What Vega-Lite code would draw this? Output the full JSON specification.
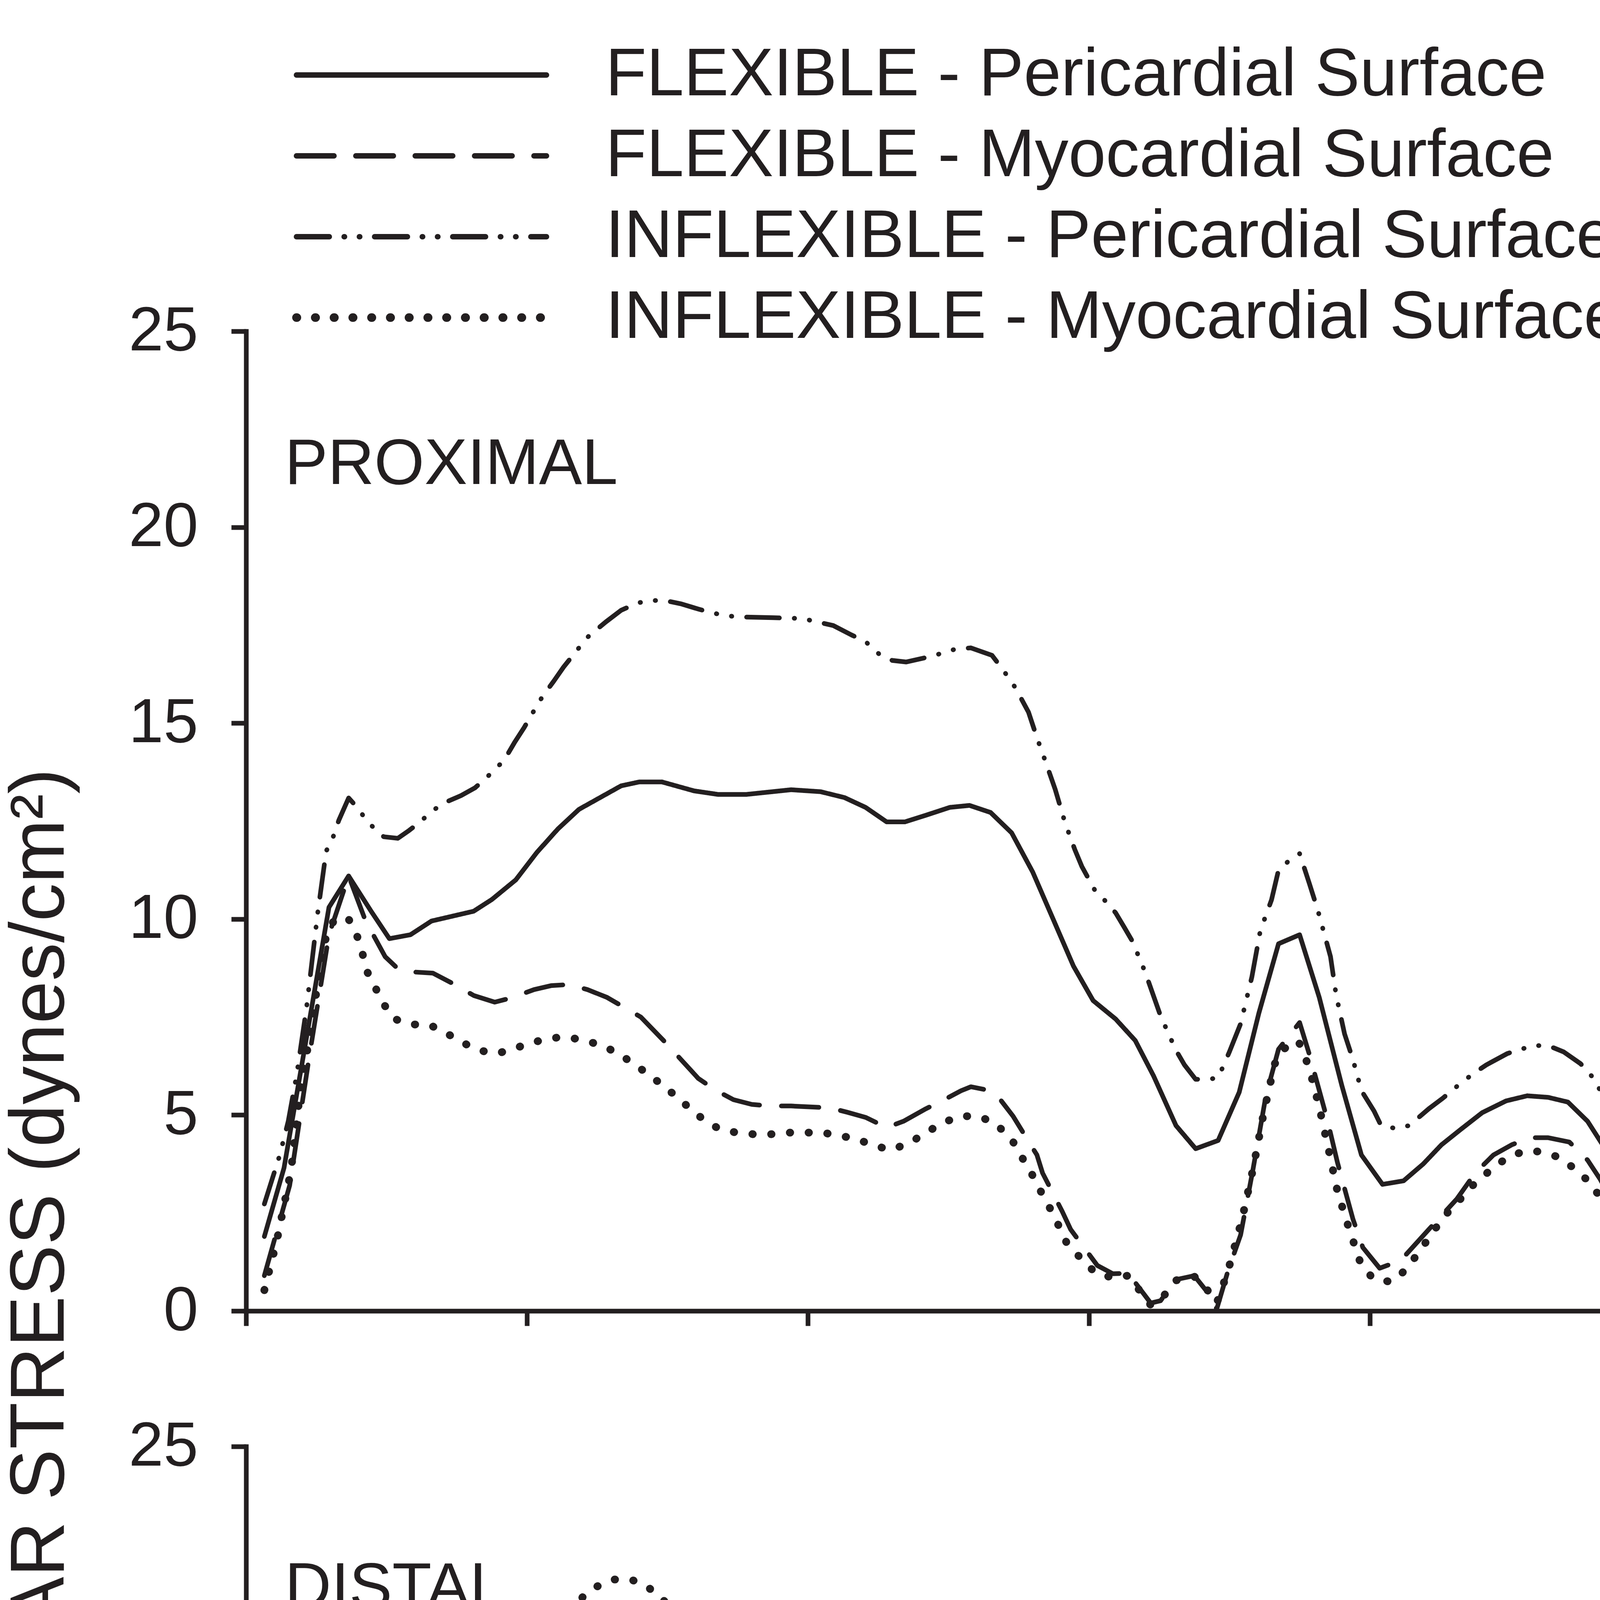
{
  "$schema": "https://vega.github.io/schema/vega-lite/v6.json",
  "background": "white",
  "padding": {"left": 5, "top": 106, "right": 0, "bottom": 0},
  "bounds": "flush",
  "spacing": 347,
  "config": {
    "font": "Liberation Sans",
    "view": {"stroke": null},
    "axis": {
      "domainColor": "#231f20", "domainWidth": 12, "domainCap": "square",
      "tickColor": "#231f20", "tickWidth": 12, "tickSize": 38,
      "labelFont": "Liberation Sans", "labelFontSize": 160, "labelColor": "#231f20", "labelLimit": 1000, "labelFlush": false,
      "titleFont": "Liberation Sans", "titleFontSize": 196, "titleColor": "#231f20", "titleFontWeight": "normal", "titleLimit": 6000,
      "grid": false
    },
    "legend": {
      "labelFont": "Liberation Sans", "labelFontSize": 172, "labelColor": "#231f20", "labelLimit": 4000,
      "symbolType": "M-5,0H5", "symbolSize": 16384, "symbolStrokeColor": "#231f20", "symbolStrokeWidth": 14,
      "labelOffset": 385, "rowPadding": 35, "padding": 0
    }
  },
  "datasets": {
    "prox": [
      {"s":"FP","t":0.013,"w":1.9},{"s":"FP","t":0.027,"w":3.65},{"s":"FP","t":0.059,"w":10.3},{"s":"FP","t":0.073,"w":11.1},{"s":"FP","t":0.089,"w":10.2},{"s":"FP","t":0.102,"w":9.5},{"s":"FP","t":0.117,"w":9.6},{"s":"FP","t":0.132,"w":9.95},{"s":"FP","t":0.162,"w":10.2},{"s":"FP","t":0.175,"w":10.5},{"s":"FP","t":0.192,"w":11.0},{"s":"FP","t":0.207,"w":11.7},{"s":"FP","t":0.222,"w":12.3},{"s":"FP","t":0.237,"w":12.8},{"s":"FP","t":0.252,"w":13.1},{"s":"FP","t":0.267,"w":13.4},{"s":"FP","t":0.28,"w":13.5},{"s":"FP","t":0.296,"w":13.5},{"s":"FP","t":0.319,"w":13.27},{"s":"FP","t":0.336,"w":13.18},{"s":"FP","t":0.356,"w":13.18},{"s":"FP","t":0.388,"w":13.3},{"s":"FP","t":0.409,"w":13.25},{"s":"FP","t":0.426,"w":13.1},{"s":"FP","t":0.441,"w":12.85},{"s":"FP","t":0.456,"w":12.48},{"s":"FP","t":0.469,"w":12.48},{"s":"FP","t":0.484,"w":12.65},{"s":"FP","t":0.501,"w":12.85},{"s":"FP","t":0.515,"w":12.9},{"s":"FP","t":0.53,"w":12.72},{"s":"FP","t":0.545,"w":12.2},{"s":"FP","t":0.56,"w":11.2},{"s":"FP","t":0.575,"w":9.96},{"s":"FP","t":0.589,"w":8.8},{"s":"FP","t":0.603,"w":7.92},{"s":"FP","t":0.619,"w":7.45},{"s":"FP","t":0.633,"w":6.9},{"s":"FP","t":0.646,"w":6.0},{"s":"FP","t":0.662,"w":4.73},{"s":"FP","t":0.676,"w":4.14},{"s":"FP","t":0.692,"w":4.35},{"s":"FP","t":0.707,"w":5.58},{"s":"FP","t":0.721,"w":7.6},{"s":"FP","t":0.735,"w":9.37},{"s":"FP","t":0.75,"w":9.6},{"s":"FP","t":0.764,"w":8.0},{"s":"FP","t":0.78,"w":5.76},{"s":"FP","t":0.794,"w":3.98},{"s":"FP","t":0.809,"w":3.23},{"s":"FP","t":0.824,"w":3.32},{"s":"FP","t":0.838,"w":3.75},{"s":"FP","t":0.851,"w":4.24},{"s":"FP","t":0.865,"w":4.64},{"s":"FP","t":0.88,"w":5.06},{"s":"FP","t":0.897,"w":5.36},{"s":"FP","t":0.912,"w":5.49},{"s":"FP","t":0.927,"w":5.45},{"s":"FP","t":0.941,"w":5.33},{"s":"FP","t":0.955,"w":4.84},{"s":"FP","t":0.97,"w":4.0},{"s":"FP","t":0.986,"w":2.76},{"s":"FP","t":1.0,"w":1.88},

      {"s":"FM","t":0.013,"w":0.9},{"s":"FM","t":0.031,"w":3.2},{"s":"FM","t":0.045,"w":6.5},{"s":"FM","t":0.059,"w":9.6},{"s":"FM","t":0.073,"w":11.1},{"s":"FM","t":0.085,"w":9.96},{"s":"FM","t":0.099,"w":9.04},{"s":"FM","t":0.109,"w":8.7},{"s":"FM","t":0.119,"w":8.65},{"s":"FM","t":0.133,"w":8.62},{"s":"FM","t":0.149,"w":8.32},{"s":"FM","t":0.162,"w":8.05},{"s":"FM","t":0.177,"w":7.88},{"s":"FM","t":0.189,"w":7.99},{"s":"FM","t":0.205,"w":8.2},{"s":"FM","t":0.217,"w":8.3},{"s":"FM","t":0.23,"w":8.33},{"s":"FM","t":0.243,"w":8.2},{"s":"FM","t":0.257,"w":8.0},{"s":"FM","t":0.269,"w":7.75},{"s":"FM","t":0.281,"w":7.5},{"s":"FM","t":0.298,"w":6.87},{"s":"FM","t":0.31,"w":6.4},{"s":"FM","t":0.322,"w":5.93},{"s":"FM","t":0.335,"w":5.62},{"s":"FM","t":0.347,"w":5.39},{"s":"FM","t":0.36,"w":5.27},{"s":"FM","t":0.373,"w":5.23},{"s":"FM","t":0.388,"w":5.23},{"s":"FM","t":0.416,"w":5.18},{"s":"FM","t":0.428,"w":5.07},{"s":"FM","t":0.441,"w":4.94},{"s":"FM","t":0.456,"w":4.68},{"s":"FM","t":0.468,"w":4.84},{"s":"FM","t":0.484,"w":5.16},{"s":"FM","t":0.497,"w":5.39},{"s":"FM","t":0.509,"w":5.62},{"s":"FM","t":0.516,"w":5.72},{"s":"FM","t":0.53,"w":5.62},{"s":"FM","t":0.537,"w":5.39},{"s":"FM","t":0.546,"w":4.97},{"s":"FM","t":0.563,"w":3.98},{"s":"FM","t":0.567,"w":3.52},{"s":"FM","t":0.581,"w":2.54},{"s":"FM","t":0.587,"w":2.08},{"s":"FM","t":0.606,"w":1.16},{"s":"FM","t":0.617,"w":0.95},{"s":"FM","t":0.628,"w":0.96},{"s":"FM","t":0.644,"w":0.2},{"s":"FM","t":0.651,"w":0.26},{"s":"FM","t":0.662,"w":0.8},{"s":"FM","t":0.675,"w":0.9},{"s":"FM","t":0.683,"w":0.54},{"s":"FM","t":0.691,"w":0.05},{"s":"FM","t":0.699,"w":1.02},{"s":"FM","t":0.708,"w":1.94},{"s":"FM","t":0.717,"w":3.65},{"s":"FM","t":0.726,"w":5.49},{"s":"FM","t":0.735,"w":6.68},{"s":"FM","t":0.75,"w":7.36},{"s":"FM","t":0.757,"w":6.54},{"s":"FM","t":0.77,"w":4.84},{"s":"FM","t":0.777,"w":3.78},{"s":"FM","t":0.788,"w":2.34},{"s":"FM","t":0.795,"w":1.62},{"s":"FM","t":0.807,"w":1.09},{"s":"FM","t":0.822,"w":1.29},{"s":"FM","t":0.842,"w":2.08},{"s":"FM","t":0.862,"w":2.86},{"s":"FM","t":0.875,"w":3.52},{"s":"FM","t":0.888,"w":3.98},{"s":"FM","t":0.901,"w":4.24},{"s":"FM","t":0.914,"w":4.42},{"s":"FM","t":0.927,"w":4.42},{"s":"FM","t":0.942,"w":4.31},{"s":"FM","t":0.955,"w":3.85},{"s":"FM","t":0.964,"w":3.36},{"s":"FM","t":0.978,"w":2.4},{"s":"FM","t":0.988,"w":1.62},{"s":"FM","t":1.0,"w":0.6},

      {"s":"IP","t":0.013,"w":2.73},{"s":"IP","t":0.024,"w":3.98},{"s":"IP","t":0.03,"w":4.84},{"s":"IP","t":0.036,"w":6.02},{"s":"IP","t":0.043,"w":7.73},{"s":"IP","t":0.051,"w":10.16},{"s":"IP","t":0.057,"w":11.73},{"s":"IP","t":0.062,"w":12.1},{"s":"IP","t":0.066,"w":12.52},{"s":"IP","t":0.073,"w":13.09},{"s":"IP","t":0.079,"w":12.85},{"s":"IP","t":0.087,"w":12.46},{"s":"IP","t":0.098,"w":12.1},{"s":"IP","t":0.108,"w":12.06},{"s":"IP","t":0.116,"w":12.26},{"s":"IP","t":0.124,"w":12.48},{"s":"IP","t":0.132,"w":12.75},{"s":"IP","t":0.142,"w":12.98},{"s":"IP","t":0.153,"w":13.15},{"s":"IP","t":0.163,"w":13.35},{"s":"IP","t":0.176,"w":13.77},{"s":"IP","t":0.184,"w":14.07},{"s":"IP","t":0.191,"w":14.5},{"s":"IP","t":0.198,"w":14.89},{"s":"IP","t":0.204,"w":15.26},{"s":"IP","t":0.211,"w":15.68},{"s":"IP","t":0.219,"w":16.07},{"s":"IP","t":0.226,"w":16.43},{"s":"IP","t":0.234,"w":16.79},{"s":"IP","t":0.243,"w":17.19},{"s":"IP","t":0.256,"w":17.58},{"s":"IP","t":0.267,"w":17.88},{"s":"IP","t":0.279,"w":18.07},{"s":"IP","t":0.289,"w":18.13},{"s":"IP","t":0.298,"w":18.13},{"s":"IP","t":0.31,"w":18.04},{"s":"IP","t":0.322,"w":17.91},{"s":"IP","t":0.331,"w":17.82},{"s":"IP","t":0.342,"w":17.74},{"s":"IP","t":0.351,"w":17.71},{"s":"IP","t":0.375,"w":17.69},{"s":"IP","t":0.396,"w":17.67},{"s":"IP","t":0.407,"w":17.58},{"s":"IP","t":0.418,"w":17.49},{"s":"IP","t":0.431,"w":17.25},{"s":"IP","t":0.441,"w":17.08},{"s":"IP","t":0.451,"w":16.75},{"s":"IP","t":0.46,"w":16.6},{"s":"IP","t":0.47,"w":16.56},{"s":"IP","t":0.486,"w":16.69},{"s":"IP","t":0.496,"w":16.79},{"s":"IP","t":0.505,"w":16.89},{"s":"IP","t":0.516,"w":16.92},{"s":"IP","t":0.531,"w":16.73},{"s":"IP","t":0.538,"w":16.4},{"s":"IP","t":0.546,"w":16.0},{"s":"IP","t":0.551,"w":15.68},{"s":"IP","t":0.557,"w":15.28},{"s":"IP","t":0.563,"w":14.63},{"s":"IP","t":0.569,"w":14.03},{"s":"IP","t":0.576,"w":13.31},{"s":"IP","t":0.583,"w":12.46},{"s":"IP","t":0.59,"w":11.77},{"s":"IP","t":0.595,"w":11.34},{"s":"IP","t":0.604,"w":10.75},{"s":"IP","t":0.61,"w":10.53},{"s":"IP","t":0.619,"w":10.16},{"s":"IP","t":0.625,"w":9.8},{"s":"IP","t":0.631,"w":9.43},{"s":"IP","t":0.64,"w":8.65},{"s":"IP","t":0.651,"w":7.53},{"s":"IP","t":0.662,"w":6.65},{"s":"IP","t":0.668,"w":6.28},{"s":"IP","t":0.676,"w":5.91},{"s":"IP","t":0.685,"w":5.91},{"s":"IP","t":0.692,"w":5.95},{"s":"IP","t":0.7,"w":6.61},{"s":"IP","t":0.708,"w":7.33},{"s":"IP","t":0.716,"w":8.52},{"s":"IP","t":0.722,"w":9.7},{"s":"IP","t":0.73,"w":10.49},{"s":"IP","t":0.735,"w":11.25},{"s":"IP","t":0.744,"w":11.54},{"s":"IP","t":0.75,"w":11.67},{"s":"IP","t":0.757,"w":10.9},{"s":"IP","t":0.763,"w":10.22},{"s":"IP","t":0.772,"w":9.04},{"s":"IP","t":0.776,"w":8.06},{"s":"IP","t":0.782,"w":7.07},{"s":"IP","t":0.788,"w":6.41},{"s":"IP","t":0.794,"w":5.62},{"s":"IP","t":0.803,"w":5.1},{"s":"IP","t":0.808,"w":4.73},{"s":"IP","t":0.818,"w":4.66},{"s":"IP","t":0.828,"w":4.73},{"s":"IP","t":0.842,"w":5.16},{"s":"IP","t":0.852,"w":5.43},{"s":"IP","t":0.862,"w":5.73},{"s":"IP","t":0.873,"w":6.04},{"s":"IP","t":0.883,"w":6.28},{"s":"IP","t":0.898,"w":6.57},{"s":"IP","t":0.916,"w":6.77},{"s":"IP","t":0.927,"w":6.77},{"s":"IP","t":0.938,"w":6.61},{"s":"IP","t":0.95,"w":6.31},{"s":"IP","t":0.959,"w":5.95},{"s":"IP","t":0.965,"w":5.56},{"s":"IP","t":0.974,"w":4.84},{"s":"IP","t":0.981,"w":4.31},{"s":"IP","t":0.988,"w":3.59},{"s":"IP","t":0.995,"w":3.23},{"s":"IP","t":1.0,"w":2.8},

      {"s":"IM","t":0.013,"w":0.53},{"s":"IM","t":0.022,"w":1.81},{"s":"IM","t":0.032,"w":3.59},{"s":"IM","t":0.039,"w":5.76},{"s":"IM","t":0.046,"w":7.14},{"s":"IM","t":0.051,"w":8.38},{"s":"IM","t":0.057,"w":9.57},{"s":"IM","t":0.063,"w":10.0},{"s":"IM","t":0.073,"w":10.0},{"s":"IM","t":0.079,"w":9.57},{"s":"IM","t":0.083,"w":9.1},{"s":"IM","t":0.086,"w":8.67},{"s":"IM","t":0.092,"w":8.25},{"s":"IM","t":0.098,"w":7.83},{"s":"IM","t":0.105,"w":7.46},{"s":"IM","t":0.117,"w":7.31},{"s":"IM","t":0.13,"w":7.31},{"s":"IM","t":0.142,"w":7.1},{"s":"IM","t":0.155,"w":6.83},{"s":"IM","t":0.167,"w":6.64},{"s":"IM","t":0.179,"w":6.57},{"s":"IM","t":0.191,"w":6.7},{"s":"IM","t":0.204,"w":6.85},{"s":"IM","t":0.216,"w":6.96},{"s":"IM","t":0.228,"w":6.99},{"s":"IM","t":0.24,"w":6.91},{"s":"IM","t":0.253,"w":6.78},{"s":"IM","t":0.265,"w":6.57},{"s":"IM","t":0.277,"w":6.28},{"s":"IM","t":0.289,"w":5.97},{"s":"IM","t":0.302,"w":5.6},{"s":"IM","t":0.314,"w":5.23},{"s":"IM","t":0.325,"w":4.9},{"s":"IM","t":0.336,"w":4.66},{"s":"IM","t":0.349,"w":4.55},{"s":"IM","t":0.361,"w":4.51},{"s":"IM","t":0.374,"w":4.51},{"s":"IM","t":0.386,"w":4.55},{"s":"IM","t":0.41,"w":4.55},{"s":"IM","t":0.422,"w":4.48},{"s":"IM","t":0.435,"w":4.38},{"s":"IM","t":0.447,"w":4.22},{"s":"IM","t":0.459,"w":4.11},{"s":"IM","t":0.472,"w":4.28},{"s":"IM","t":0.484,"w":4.55},{"s":"IM","t":0.496,"w":4.8},{"s":"IM","t":0.508,"w":4.97},{"s":"IM","t":0.521,"w":4.97},{"s":"IM","t":0.533,"w":4.8},{"s":"IM","t":0.545,"w":4.38},{"s":"IM","t":0.552,"w":3.94},{"s":"IM","t":0.559,"w":3.52},{"s":"IM","t":0.565,"w":3.1},{"s":"IM","t":0.572,"w":2.64},{"s":"IM","t":0.578,"w":2.21},{"s":"IM","t":0.584,"w":1.75},{"s":"IM","t":0.594,"w":1.35},{"s":"IM","t":0.605,"w":0.96},{"s":"IM","t":0.617,"w":0.85},{"s":"IM","t":0.628,"w":0.9},{"s":"IM","t":0.644,"w":0.15},{"s":"IM","t":0.651,"w":0.28},{"s":"IM","t":0.662,"w":0.78},{"s":"IM","t":0.675,"w":0.88},{"s":"IM","t":0.683,"w":0.6},{"s":"IM","t":0.691,"w":0.2},{"s":"IM","t":0.699,"w":1.02},{"s":"IM","t":0.709,"w":2.34},{"s":"IM","t":0.717,"w":3.65},{"s":"IM","t":0.724,"w":4.97},{"s":"IM","t":0.732,"w":6.28},{"s":"IM","t":0.737,"w":6.65},{"s":"IM","t":0.749,"w":6.9},{"s":"IM","t":0.754,"w":6.48},{"s":"IM","t":0.758,"w":6.04},{"s":"IM","t":0.764,"w":5.2},{"s":"IM","t":0.772,"w":3.89},{"s":"IM","t":0.777,"w":3.04},{"s":"IM","t":0.785,"w":2.12},{"s":"IM","t":0.793,"w":1.26},{"s":"IM","t":0.802,"w":0.83},{"s":"IM","t":0.815,"w":0.74},{"s":"IM","t":0.826,"w":1.06},{"s":"IM","t":0.835,"w":1.51},{"s":"IM","t":0.843,"w":1.91},{"s":"IM","t":0.852,"w":2.38},{"s":"IM","t":0.863,"w":2.8},{"s":"IM","t":0.874,"w":3.23},{"s":"IM","t":0.887,"w":3.63},{"s":"IM","t":0.897,"w":3.89},{"s":"IM","t":0.909,"w":4.07},{"s":"IM","t":0.921,"w":4.07},{"s":"IM","t":0.933,"w":3.94},{"s":"IM","t":0.946,"w":3.63},{"s":"IM","t":0.958,"w":3.23},{"s":"IM","t":0.966,"w":2.77},{"s":"IM","t":0.973,"w":2.34},{"s":"IM","t":0.979,"w":1.92},{"s":"IM","t":0.983,"w":1.48},{"s":"IM","t":0.99,"w":1.02},{"s":"IM","t":0.998,"w":0.59}
    ],
    "dist": [
      {"s":"FP","t":0.015,"w":2.2},{"s":"FP","t":0.023,"w":2.9},{"s":"FP","t":0.032,"w":4.09},{"s":"FP","t":0.037,"w":5.28},{"s":"FP","t":0.043,"w":6.92},{"s":"FP","t":0.049,"w":8.85},{"s":"FP","t":0.055,"w":10.04},{"s":"FP","t":0.061,"w":10.86},{"s":"FP","t":0.074,"w":11.9},{"s":"FP","t":0.089,"w":11.46},{"s":"FP","t":0.104,"w":11.24},{"s":"FP","t":0.12,"w":11.68},{"s":"FP","t":0.135,"w":12.28},{"s":"FP","t":0.148,"w":12.54},{"s":"FP","t":0.163,"w":12.75},{"s":"FP","t":0.178,"w":13.1},{"s":"FP","t":0.19,"w":13.65},{"s":"FP","t":0.205,"w":14.43},{"s":"FP","t":0.22,"w":15.4},{"s":"FP","t":0.235,"w":16.18},{"s":"FP","t":0.25,"w":16.86},{"s":"FP","t":0.267,"w":17.51},{"s":"FP","t":0.281,"w":17.86},{"s":"FP","t":0.297,"w":18.13},{"s":"FP","t":0.324,"w":18.15},{"s":"FP","t":0.353,"w":18.15},{"s":"FP","t":0.374,"w":18.26},{"s":"FP","t":0.393,"w":18.27},{"s":"FP","t":0.411,"w":18.2},{"s":"FP","t":0.427,"w":18.05},{"s":"FP","t":0.441,"w":17.75},{"s":"FP","t":0.456,"w":17.31},{"s":"FP","t":0.472,"w":17.23},{"s":"FP","t":0.487,"w":17.31},{"s":"FP","t":0.501,"w":17.46},{"s":"FP","t":0.513,"w":17.53},{"s":"FP","t":0.529,"w":17.37},{"s":"FP","t":0.544,"w":16.82},{"s":"FP","t":0.56,"w":15.7},{"s":"FP","t":0.575,"w":14.14},{"s":"FP","t":0.59,"w":12.43},{"s":"FP","t":0.603,"w":11.24},{"s":"FP","t":0.619,"w":10.15},{"s":"FP","t":0.632,"w":9.23},{"s":"FP","t":0.647,"w":7.81},{"s":"FP","t":0.661,"w":6.35},{"s":"FP","t":0.676,"w":5.43},{"s":"FP","t":0.692,"w":5.36},{"s":"FP","t":0.704,"w":6.32},{"s":"FP","t":0.719,"w":7.96},{"s":"FP","t":0.735,"w":10.19},{"s":"FP","t":0.749,"w":10.64},{"s":"FP","t":0.765,"w":9.45},{"s":"FP","t":0.779,"w":7.59},{"s":"FP","t":0.793,"w":5.88},{"s":"FP","t":0.808,"w":4.61},{"s":"FP","t":0.824,"w":4.46},{"s":"FP","t":0.839,"w":4.76},{"s":"FP","t":0.855,"w":5.13},{"s":"FP","t":0.87,"w":5.51},{"s":"FP","t":0.886,"w":5.8},{"s":"FP","t":0.897,"w":6.03},{"s":"FP","t":0.911,"w":6.18},{"s":"FP","t":0.927,"w":6.18},{"s":"FP","t":0.941,"w":6.03},{"s":"FP","t":0.956,"w":5.61},{"s":"FP","t":0.972,"w":4.76},{"s":"FP","t":0.986,"w":3.72},{"s":"FP","t":1.0,"w":2.6},

      {"s":"FM","t":0.015,"w":1.8},{"s":"FM","t":0.023,"w":2.75},{"s":"FM","t":0.042,"w":6.62},{"s":"FM","t":0.052,"w":8.48},{"s":"FM","t":0.057,"w":11.09},{"s":"FM","t":0.061,"w":11.83},{"s":"FM","t":0.073,"w":12.9},{"s":"FM","t":0.082,"w":12.57},{"s":"FM","t":0.089,"w":12.28},{"s":"FM","t":0.104,"w":11.9},{"s":"FM","t":0.121,"w":12.35},{"s":"FM","t":0.133,"w":12.72},{"s":"FM","t":0.148,"w":12.87},{"s":"FM","t":0.161,"w":12.87},{"s":"FM","t":0.176,"w":13.1},{"s":"FM","t":0.189,"w":13.39},{"s":"FM","t":0.2,"w":13.84},{"s":"FM","t":0.212,"w":14.21},{"s":"FM","t":0.227,"w":14.73},{"s":"FM","t":0.239,"w":15.03},{"s":"FM","t":0.254,"w":15.18},{"s":"FM","t":0.267,"w":15.22},{"s":"FM","t":0.279,"w":15.1},{"s":"FM","t":0.294,"w":14.8},{"s":"FM","t":0.307,"w":14.38},{"s":"FM","t":0.319,"w":13.91},{"s":"FM","t":0.327,"w":13.62},{"s":"FM","t":0.347,"w":13.1},{"s":"FM","t":0.358,"w":12.83},{"s":"FM","t":0.372,"w":12.65},{"s":"FM","t":0.387,"w":12.54},{"s":"FM","t":0.398,"w":12.43},{"s":"FM","t":0.412,"w":12.31},{"s":"FM","t":0.427,"w":12.1},{"s":"FM","t":0.439,"w":11.83},{"s":"FM","t":0.448,"w":11.53},{"s":"FM","t":0.459,"w":11.35},{"s":"FM","t":0.47,"w":11.35},{"s":"FM","t":0.482,"w":11.53},{"s":"FM","t":0.493,"w":11.71},{"s":"FM","t":0.506,"w":11.98},{"s":"FM","t":0.518,"w":12.1},{"s":"FM","t":0.528,"w":12.05},{"s":"FM","t":0.535,"w":11.8},{"s":"FM","t":0.545,"w":11.46},{"s":"FM","t":0.552,"w":10.79},{"s":"FM","t":0.56,"w":10.12},{"s":"FM","t":0.567,"w":9.45},{"s":"FM","t":0.572,"w":8.93},{"s":"FM","t":0.579,"w":8.11},{"s":"FM","t":0.587,"w":7.22},{"s":"FM","t":0.594,"w":6.7},{"s":"FM","t":0.606,"w":5.76},{"s":"FM","t":0.616,"w":5.28},{"s":"FM","t":0.621,"w":5.06},{"s":"FM","t":0.632,"w":4.36},{"s":"FM","t":0.64,"w":3.79},{"s":"FM","t":0.65,"w":2.9},{"s":"FM","t":0.656,"w":2.38},{"s":"FM","t":0.662,"w":1.93},{"s":"FM","t":0.674,"w":1.44},{"s":"FM","t":0.685,"w":1.59},{"s":"FM","t":0.691,"w":1.74},{"s":"FM","t":0.698,"w":2.53},{"s":"FM","t":0.704,"w":3.35},{"s":"FM","t":0.71,"w":3.94},{"s":"FM","t":0.713,"w":4.99},{"s":"FM","t":0.72,"w":6.4},{"s":"FM","t":0.726,"w":7.44},{"s":"FM","t":0.737,"w":8.63},{"s":"FM","t":0.749,"w":9.38},{"s":"FM","t":0.757,"w":8.63},{"s":"FM","t":0.766,"w":7.81},{"s":"FM","t":0.775,"w":6.25},{"s":"FM","t":0.784,"w":5.13},{"s":"FM","t":0.793,"w":3.87},{"s":"FM","t":0.802,"w":3.35},{"s":"FM","t":0.81,"w":2.98},{"s":"FM","t":0.824,"w":2.98},{"s":"FM","t":0.837,"w":3.5},{"s":"FM","t":0.852,"w":4.02},{"s":"FM","t":0.868,"w":4.61},{"s":"FM","t":0.888,"w":5.13},{"s":"FM","t":0.901,"w":5.51},{"s":"FM","t":0.915,"w":5.8},{"s":"FM","t":0.929,"w":5.8},{"s":"FM","t":0.942,"w":5.65},{"s":"FM","t":0.955,"w":5.36},{"s":"FM","t":0.968,"w":4.69},{"s":"FM","t":0.978,"w":3.87},{"s":"FM","t":0.988,"w":2.9},{"s":"FM","t":1.0,"w":1.8},

      {"s":"IP","t":0.015,"w":2.5},{"s":"IP","t":0.025,"w":3.42},{"s":"IP","t":0.032,"w":4.46},{"s":"IP","t":0.04,"w":6.03},{"s":"IP","t":0.046,"w":7.51},{"s":"IP","t":0.053,"w":8.85},{"s":"IP","t":0.059,"w":9.97},{"s":"IP","t":0.066,"w":10.49},{"s":"IP","t":0.073,"w":10.86},{"s":"IP","t":0.081,"w":10.57},{"s":"IP","t":0.089,"w":10.19},{"s":"IP","t":0.104,"w":9.78},{"s":"IP","t":0.112,"w":9.9},{"s":"IP","t":0.122,"w":10.12},{"s":"IP","t":0.132,"w":10.31},{"s":"IP","t":0.144,"w":10.37},{"s":"IP","t":0.162,"w":10.42},{"s":"IP","t":0.177,"w":10.6},{"s":"IP","t":0.187,"w":10.83},{"s":"IP","t":0.198,"w":11.16},{"s":"IP","t":0.21,"w":11.53},{"s":"IP","t":0.221,"w":11.9},{"s":"IP","t":0.231,"w":12.13},{"s":"IP","t":0.241,"w":12.35},{"s":"IP","t":0.251,"w":12.54},{"s":"IP","t":0.266,"w":12.69},{"s":"IP","t":0.275,"w":12.72},{"s":"IP","t":0.286,"w":12.68},{"s":"IP","t":0.295,"w":12.6},{"s":"IP","t":0.305,"w":12.46},{"s":"IP","t":0.316,"w":12.31},{"s":"IP","t":0.33,"w":12.13},{"s":"IP","t":0.34,"w":11.98},{"s":"IP","t":0.35,"w":11.92},{"s":"IP","t":0.359,"w":11.9},{"s":"IP","t":0.385,"w":11.93},{"s":"IP","t":0.404,"w":11.93},{"s":"IP","t":0.419,"w":11.88},{"s":"IP","t":0.427,"w":11.8},{"s":"IP","t":0.439,"w":11.64},{"s":"IP","t":0.448,"w":11.46},{"s":"IP","t":0.459,"w":11.31},{"s":"IP","t":0.47,"w":11.35},{"s":"IP","t":0.48,"w":11.5},{"s":"IP","t":0.494,"w":11.64},{"s":"IP","t":0.503,"w":11.76},{"s":"IP","t":0.513,"w":11.86},{"s":"IP","t":0.524,"w":11.8},{"s":"IP","t":0.531,"w":11.61},{"s":"IP","t":0.544,"w":11.2},{"s":"IP","t":0.551,"w":10.86},{"s":"IP","t":0.557,"w":10.34},{"s":"IP","t":0.565,"w":9.6},{"s":"IP","t":0.572,"w":8.85},{"s":"IP","t":0.585,"w":8.11},{"s":"IP","t":0.597,"w":7.29},{"s":"IP","t":0.611,"w":6.5},{"s":"IP","t":0.619,"w":6.18},{"s":"IP","t":0.631,"w":5.91},{"s":"IP","t":0.641,"w":5.13},{"s":"IP","t":0.65,"w":4.32},{"s":"IP","t":0.659,"w":3.57},{"s":"IP","t":0.668,"w":3.13},{"s":"IP","t":0.677,"w":2.87},{"s":"IP","t":0.689,"w":3.05},{"s":"IP","t":0.695,"w":3.5},{"s":"IP","t":0.703,"w":4.17},{"s":"IP","t":0.71,"w":4.91},{"s":"IP","t":0.716,"w":6.03},{"s":"IP","t":0.722,"w":6.85},{"s":"IP","t":0.733,"w":8.18},{"s":"IP","t":0.738,"w":8.48},{"s":"IP","t":0.749,"w":8.82},{"s":"IP","t":0.757,"w":8.48},{"s":"IP","t":0.762,"w":7.96},{"s":"IP","t":0.766,"w":7.37},{"s":"IP","t":0.772,"w":6.7},{"s":"IP","t":0.779,"w":5.73},{"s":"IP","t":0.785,"w":4.99},{"s":"IP","t":0.793,"w":3.87},{"s":"IP","t":0.801,"w":3.42},{"s":"IP","t":0.808,"w":3.2},{"s":"IP","t":0.824,"w":3.2},{"s":"IP","t":0.835,"w":3.5},{"s":"IP","t":0.844,"w":3.82},{"s":"IP","t":0.852,"w":4.09},{"s":"IP","t":0.865,"w":4.46},{"s":"IP","t":0.878,"w":4.76},{"s":"IP","t":0.888,"w":4.99},{"s":"IP","t":0.898,"w":5.16},{"s":"IP","t":0.909,"w":5.28},{"s":"IP","t":0.922,"w":5.33},{"s":"IP","t":0.932,"w":5.28},{"s":"IP","t":0.942,"w":5.16},{"s":"IP","t":0.954,"w":4.84},{"s":"IP","t":0.96,"w":4.49},{"s":"IP","t":0.967,"w":4.09},{"s":"IP","t":0.978,"w":3.35},{"s":"IP","t":0.986,"w":2.9},{"s":"IP","t":0.995,"w":2.4},{"s":"IP","t":1.0,"w":2.2},

      {"s":"IM","t":0.013,"w":3.0},{"s":"IM","t":0.018,"w":3.5},{"s":"IM","t":0.024,"w":4.35},{"s":"IM","t":0.029,"w":5.21},{"s":"IM","t":0.032,"w":5.65},{"s":"IM","t":0.035,"w":6.5},{"s":"IM","t":0.037,"w":7.37},{"s":"IM","t":0.039,"w":8.29},{"s":"IM","t":0.042,"w":9.15},{"s":"IM","t":0.044,"w":9.97},{"s":"IM","t":0.047,"w":10.86},{"s":"IM","t":0.049,"w":11.73},{"s":"IM","t":0.052,"w":12.6},{"s":"IM","t":0.054,"w":13.47},{"s":"IM","t":0.057,"w":14.32},{"s":"IM","t":0.059,"w":15.15},{"s":"IM","t":0.064,"w":15.63},{"s":"IM","t":0.071,"w":15.67},{"s":"IM","t":0.079,"w":15.77},{"s":"IM","t":0.091,"w":15.58},{"s":"IM","t":0.104,"w":15.43},{"s":"IM","t":0.113,"w":15.88},{"s":"IM","t":0.122,"w":16.29},{"s":"IM","t":0.13,"w":16.77},{"s":"IM","t":0.14,"w":17.16},{"s":"IM","t":0.153,"w":17.44},{"s":"IM","t":0.165,"w":17.68},{"s":"IM","t":0.177,"w":18.04},{"s":"IM","t":0.186,"w":18.48},{"s":"IM","t":0.194,"w":18.93},{"s":"IM","t":0.202,"w":19.35},{"s":"IM","t":0.209,"w":19.79},{"s":"IM","t":0.217,"w":20.21},{"s":"IM","t":0.226,"w":20.65},{"s":"IM","t":0.237,"w":21.1},{"s":"IM","t":0.249,"w":21.43},{"s":"IM","t":0.261,"w":21.62},{"s":"IM","t":0.274,"w":21.62},{"s":"IM","t":0.285,"w":21.46},{"s":"IM","t":0.297,"w":21.1},{"s":"IM","t":0.308,"w":20.65},{"s":"IM","t":0.318,"w":20.24},{"s":"IM","t":0.327,"w":19.79},{"s":"IM","t":0.338,"w":19.35},{"s":"IM","t":0.35,"w":18.93},{"s":"IM","t":0.362,"w":18.57},{"s":"IM","t":0.374,"w":18.3},{"s":"IM","t":0.386,"w":18.08},{"s":"IM","t":0.399,"w":17.9},{"s":"IM","t":0.411,"w":17.68},{"s":"IM","t":0.423,"w":17.41},{"s":"IM","t":0.435,"w":17.11},{"s":"IM","t":0.446,"w":16.74},{"s":"IM","t":0.457,"w":16.32},{"s":"IM","t":0.469,"w":16.26},{"s":"IM","t":0.481,"w":16.41},{"s":"IM","t":0.493,"w":16.64},{"s":"IM","t":0.505,"w":16.89},{"s":"IM","t":0.518,"w":16.99},{"s":"IM","t":0.529,"w":16.92},{"s":"IM","t":0.539,"w":16.47},{"s":"IM","t":0.546,"w":16.03},{"s":"IM","t":0.551,"w":15.58},{"s":"IM","t":0.556,"w":15.15},{"s":"IM","t":0.56,"w":14.73},{"s":"IM","t":0.566,"w":13.87},{"s":"IM","t":0.573,"w":12.99},{"s":"IM","t":0.58,"w":12.1},{"s":"IM","t":0.589,"w":10.82},{"s":"IM","t":0.597,"w":9.94},{"s":"IM","t":0.606,"w":9.06},{"s":"IM","t":0.613,"w":8.63},{"s":"IM","t":0.621,"w":8.18},{"s":"IM","t":0.634,"w":7.29},{"s":"IM","t":0.643,"w":6.43},{"s":"IM","t":0.652,"w":5.13},{"s":"IM","t":0.665,"w":3.87},{"s":"IM","t":0.672,"w":3.42},{"s":"IM","t":0.681,"w":3.2},{"s":"IM","t":0.69,"w":3.42},{"s":"IM","t":0.695,"w":3.87},{"s":"IM","t":0.703,"w":4.76},{"s":"IM","t":0.71,"w":5.58},{"s":"IM","t":0.715,"w":6.89},{"s":"IM","t":0.72,"w":7.74},{"s":"IM","t":0.725,"w":8.63},{"s":"IM","t":0.73,"w":9.52},{"s":"IM","t":0.734,"w":10.42},{"s":"IM","t":0.742,"w":11.09},{"s":"IM","t":0.748,"w":11.71},{"s":"IM","t":0.753,"w":11.56},{"s":"IM","t":0.758,"w":11.12},{"s":"IM","t":0.764,"w":10.64},{"s":"IM","t":0.771,"w":9.38},{"s":"IM","t":0.78,"w":8.11},{"s":"IM","t":0.789,"w":7.14},{"s":"IM","t":0.798,"w":5.8},{"s":"IM","t":0.804,"w":5.28},{"s":"IM","t":0.812,"w":4.69},{"s":"IM","t":0.824,"w":4.64},{"s":"IM","t":0.836,"w":5.01},{"s":"IM","t":0.847,"w":5.43},{"s":"IM","t":0.859,"w":5.88},{"s":"IM","t":0.87,"w":6.32},{"s":"IM","t":0.882,"w":6.77},{"s":"IM","t":0.895,"w":7.14},{"s":"IM","t":0.907,"w":7.44},{"s":"IM","t":0.919,"w":7.62},{"s":"IM","t":0.931,"w":7.66},{"s":"IM","t":0.943,"w":7.51},{"s":"IM","t":0.955,"w":7.14},{"s":"IM","t":0.962,"w":6.65},{"s":"IM","t":0.968,"w":6.25},{"s":"IM","t":0.977,"w":5.39},{"s":"IM","t":0.986,"w":4.46},{"s":"IM","t":0.995,"w":3.62},{"s":"IM","t":1.0,"w":3.0}
    ]
  },
  "resolve": {"legend": {"strokeDash": "independent"}},
  "vconcat": [
    {
      "width": 3596,
      "height": 2508,
      "layer": [
        {
          "data": {"name": "prox"},
          "transform": [{"filter": "datum.s !== 'IM'"}],
          "mark": {"type": "line", "color": "#231f20", "strokeWidth": 12, "strokeCap": "round", "strokeJoin": "round"},
          "encoding": {
            "x": {"field": "t", "type": "quantitative", "scale": {"domain": [0, 1], "nice": false},
                  "axis": {"values": [0, 0.2, 0.4, 0.6, 0.8, 1.0], "labels": false, "title": null}},
            "y": {"field": "w", "type": "quantitative", "scale": {"domain": [0, 25], "nice": false},
                  "axis": {"values": [0, 5, 10, 15, 20, 25], "format": "d", "labelPadding": 85,
                           "title": "WALL SHEAR STRESS (dynes/cm²)", "titleAngle": -90, "titleBaseline": "middle",
                           "titleAlign": "center", "titleX": -527, "titleY": 2707}},
            "strokeDash": {"field": "s", "type": "nominal",
              "scale": {"domain": ["FP", "FM", "IP", "IM"], "range": [[1, 0], [96, 56], [84, 38, 1, 38, 1, 38], [1, 47]]},
              "legend": {"orient": "none", "legendX": 363, "legendY": -742, "title": null,
                "labelExpr": "{'FP': 'FLEXIBLE - Pericardial Surface', 'FM': 'FLEXIBLE - Myocardial Surface', 'IP': 'INFLEXIBLE - Pericardial Surface', 'IM': 'INFLEXIBLE - Myocardial Surface'}[datum.label]",
                "encode": {"symbols": {"update": {
                  "strokeCap": {"value": "round"},
                  "fill": {"value": "transparent"},
                  "stroke": {"value": "#231f20"},
                  "strokeWidth": {"signal": "datum.value === 'IM' ? 22 : 14"}}}}}}
          }
        },
        {
          "data": {"name": "prox"},
          "transform": [{"filter": "datum.s === 'IM'"}],
          "mark": {"type": "line", "color": "#231f20", "strokeWidth": 20, "strokeCap": "round", "strokeJoin": "round"},
          "encoding": {
            "x": {"field": "t", "type": "quantitative"},
            "y": {"field": "w", "type": "quantitative"},
            "strokeDash": {"field": "s", "type": "nominal"}
          }
        },
        {
          "data": {"values": [{"label": "PROXIMAL"}]},
          "mark": {"type": "text", "align": "left", "baseline": "middle", "fontSize": 165, "font": "Liberation Sans", "color": "#231f20"},
          "encoding": {
            "x": {"datum": 0.0275},
            "y": {"datum": 21.6},
            "text": {"field": "label"}
          }
        }
      ]
    },
    {
      "width": 3596,
      "height": 2519,
      "layer": [
        {
          "data": {"name": "dist"},
          "transform": [{"filter": "datum.s !== 'IM'"}],
          "mark": {"type": "line", "color": "#231f20", "strokeWidth": 12, "strokeCap": "round", "strokeJoin": "round"},
          "encoding": {
            "x": {"field": "t", "type": "quantitative", "scale": {"domain": [0, 1], "nice": false},
                  "axis": {"values": [0, 0.2, 0.4, 0.6, 0.8, 1.0], "format": ".1f", "labelPadding": 83,
                           "title": "NORMALIZED TIME", "titleFontSize": 200, "titlePadding": 152}},
            "y": {"field": "w", "type": "quantitative", "scale": {"domain": [0, 25], "nice": false},
                  "axis": {"values": [0, 5, 10, 15, 20, 25], "format": "d", "labelPadding": 85, "title": null}},
            "strokeDash": {"field": "s", "type": "nominal",
              "scale": {"domain": ["FP", "FM", "IP", "IM"], "range": [[1, 0], [96, 56], [84, 38, 1, 38, 1, 38], [1, 47]]},
              "legend": null}
          }
        },
        {
          "data": {"name": "dist"},
          "transform": [{"filter": "datum.s === 'IM'"}],
          "mark": {"type": "line", "color": "#231f20", "strokeWidth": 20, "strokeCap": "round", "strokeJoin": "round"},
          "encoding": {
            "x": {"field": "t", "type": "quantitative"},
            "y": {"field": "w", "type": "quantitative"},
            "strokeDash": {"field": "s", "type": "nominal", "legend": null}
          }
        },
        {
          "data": {"values": [{"label": "DISTAL"}]},
          "mark": {"type": "text", "align": "left", "baseline": "middle", "fontSize": 165, "font": "Liberation Sans", "color": "#231f20"},
          "encoding": {
            "x": {"datum": 0.0275},
            "y": {"datum": 21.4},
            "text": {"field": "label"}
          }
        }
      ]
    }
  ]
}
